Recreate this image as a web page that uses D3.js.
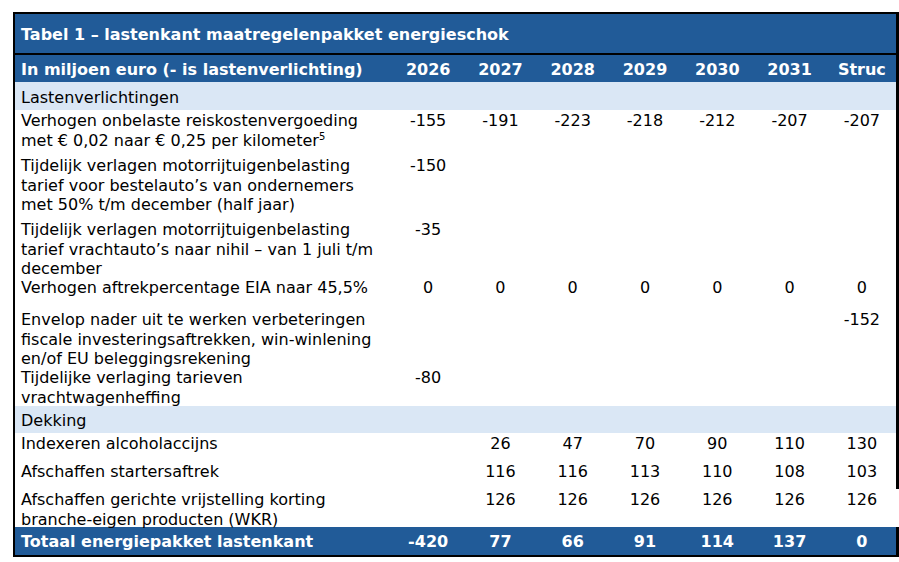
<!DOCTYPE html>
<html>
<head>
<meta charset="utf-8">
<script src="https://cdn.jsdelivr.net/npm/d3@7"></script>
<style>
  html, body { margin: 0; padding: 0; background: #fff; }
  svg { display: block; }
  text { font-family: "DejaVu Sans", Verdana, sans-serif; font-size: 16px; }
</style>
</head>
<body>
<div id="chart"></div>
<script>
// data
var title = "Tabel 1 \u2013 lastenkant maatregelenpakket energieschok";
var headLabel = "In miljoen euro (- is lastenverlichting)";
var columns = ["2026", "2027", "2028", "2029", "2030", "2031", "Struc"];

var lastenTitle = "Lastenverlichtingen";
var lastenLabels = [
    ["Verhogen onbelaste reiskostenvergoeding", "met \u20ac 0,02 naar \u20ac 0,25 per kilometer"],
    ["Tijdelijk verlagen motorrijtuigenbelasting", "tarief voor bestelauto\u2019s van ondernemers", "met 50% t/m december (half jaar)"],
    ["Tijdelijk verlagen motorrijtuigenbelasting", "tarief vrachtauto\u2019s naar nihil \u2013 van 1 juli t/m", "december"],
    ["Verhogen aftrekpercentage EIA naar 45,5%"],
    ["Envelop nader uit te werken verbeteringen", "fiscale investeringsaftrekken, win-winlening", "en/of EU beleggingsrekening"],
    ["Tijdelijke verlaging tarieven", "vrachtwagenheffing"]
];
var lastenValues = [
    [-155, -191, -223, -218, -212, -207, -207],
    [-150, null, null, null, null, null, null],
    [-35, null, null, null, null, null, null],
    [0, 0, 0, 0, 0, 0, 0],
    [null, null, null, null, null, null, -152],
    [-80, null, null, null, null, null, null]
];

var dekkingTitle = "Dekking";
var dekkingLabels = [
    ["Indexeren alcoholaccijns"],
    ["Afschaffen startersaftrek"],
    ["Afschaffen gerichte vrijstelling korting", "branche-eigen producten (WKR)"]
];
var dekkingValues = [
    [null, 26, 47, 70, 90, 110, 130],
    [null, 116, 116, 113, 110, 108, 103],
    [null, 126, 126, 126, 126, 126, 126]
];

var totalLabel = "Totaal energiepakket lastenkant";
var totalValues = [-420, 77, 66, 91, 114, 137, 0];

// layout
var W = 899, H = 562;
var left = 15, right = 896, labelX = 21, colStart = 392, colEnd = 898;
var top0 = 14, titleH = 39, sepH = 2, headH = 27, bandH = 28;
var lastenHeights = [45, 64, 58, 32, 58, 39];
var dekkingBandH = 27;
var dekkingHeights = [28, 28, 38];
var totalH = 28;
var lineH = 19.5;
var darkBlue = "#215b98", lightBlue = "#dae7f5";

var svg = d3.select("#chart").append("svg")
    .attr("width", W)
    .attr("height", H);

var x = d3.scaleBand()
    .domain(columns)
    .range([colStart, colEnd]);
var cx = function(c){ return x(c) + x.bandwidth()/2; };

// build row list
var rows = [];
var y = top0;
rows.push({type: "title", y: y, h: titleH}); y += titleH;
rows.push({type: "sep", y: y, h: sepH}); y += sepH;
rows.push({type: "head", y: y, h: headH}); y += headH;
rows.push({type: "band", y: y, h: bandH, label: lastenTitle}); y += bandH;
lastenLabels.forEach(function(l, i){
    rows.push({type: "body", y: y, h: lastenHeights[i], lines: l, values: lastenValues[i], idx: i});
    y += lastenHeights[i];
});
rows.push({type: "band", y: y, h: dekkingBandH, label: dekkingTitle}); y += dekkingBandH;
var gapTop = 0, gapBottom = 0;
dekkingLabels.forEach(function(l, i){
    if(i == dekkingLabels.length-1) gapTop = y;
    rows.push({type: "body", y: y, h: dekkingHeights[i], lines: l, values: dekkingValues[i]});
    y += dekkingHeights[i];
});
gapBottom = y;
rows.push({type: "total", y: y, h: totalH, values: totalValues}); y += totalH;
var bottom = y;

// backgrounds
svg.selectAll("rect.bg")
    .data(rows.filter(function(r){ return r.type != "body"; }))
    .enter().append("rect")
    .attr("class", "bg")
    .attr("x", left)
    .attr("y", function(r){ return r.y; })
    .attr("width", right - left)
    .attr("height", function(r){ return r.h; })
    .attr("fill", function(r){
        if(r.type == "sep") return "#000";
        if(r.type == "band") return lightBlue;
        return darkBlue;
    });

// title
var titleRow = rows[0];
svg.append("text")
    .attr("x", labelX)
    .attr("y", titleRow.y + titleRow.h/2 + 6)
    .attr("fill", "#fff")
    .style("font-weight", "bold")
    .text(title);

// header
var headRow = rows[2];
svg.append("text")
    .attr("x", labelX)
    .attr("y", headRow.y + headRow.h/2 + 6)
    .attr("fill", "#fff")
    .style("font-weight", "bold")
    .text(headLabel);
svg.selectAll("text.col")
    .data(columns)
    .enter().append("text")
    .attr("class", "col")
    .attr("x", cx)
    .attr("y", headRow.y + headRow.h/2 + 6)
    .attr("text-anchor", "middle")
    .attr("fill", "#fff")
    .style("font-weight", "bold")
    .text(function(d){ return d; });

// section bands
svg.selectAll("text.band")
    .data(rows.filter(function(r){ return r.type == "band"; }))
    .enter().append("text")
    .attr("class", "band")
    .attr("x", labelX)
    .attr("y", function(r){ return r.y + r.h/2 + 6.5; })
    .attr("fill", "#000")
    .text(function(r){ return r.label; });

// body rows
var body = svg.selectAll("g.row")
    .data(rows.filter(function(r){ return r.type == "body"; }))
    .enter().append("g")
    .attr("class", "row")
    .attr("transform", function(r){ return "translate(0," + (r.y + 16) + ")"; });

body.each(function(r){
    var g = d3.select(this);
    r.lines.forEach(function(line, k){
        var t = g.append("text")
            .attr("x", labelX)
            .attr("y", k*lineH)
            .attr("fill", "#000")
            .text(line);
        if(r.idx === 0 && k == 1){
            t.append("tspan")
                .attr("dy", -6)
                .style("font-size", "10px")
                .text("5");
        }
    });
    g.selectAll("text.val")
        .data(r.values.map(function(v, i){ return {v: v, c: columns[i]}; }).filter(function(d){ return d.v !== null; }))
        .enter().append("text")
        .attr("class", "val")
        .attr("x", function(d){ return cx(d.c); })
        .attr("y", 0)
        .attr("text-anchor", "middle")
        .attr("fill", "#000")
        .text(function(d){ return d.v; });
});

// total row
var totalRow = rows[rows.length-1];
svg.append("text")
    .attr("x", labelX)
    .attr("y", totalRow.y + totalRow.h/2 + 6)
    .attr("fill", "#fff")
    .style("font-weight", "bold")
    .text(totalLabel);
svg.selectAll("text.tot")
    .data(totalValues.map(function(v, i){ return {v: v, c: columns[i]}; }))
    .enter().append("text")
    .attr("class", "tot")
    .attr("x", function(d){ return cx(d.c); })
    .attr("y", totalRow.y + totalRow.h/2 + 6)
    .attr("text-anchor", "middle")
    .attr("fill", "#fff")
    .style("font-weight", "bold")
    .text(function(d){ return d.v; });

// outer border (right side breaks at last dekking row)
var bw = 2;
svg.append("rect").attr("x", left - bw).attr("y", top0 - bw).attr("width", right - left + 2*bw).attr("height", bw).attr("fill", "#000");
svg.append("rect").attr("x", left - bw).attr("y", bottom).attr("width", right - left + 2*bw + 1).attr("height", bw).attr("fill", "#000");
svg.append("rect").attr("x", left - bw).attr("y", top0 - bw).attr("width", bw).attr("height", bottom - top0 + 2*bw).attr("fill", "#000");
svg.append("rect").attr("x", right).attr("y", top0 - bw).attr("width", bw + 1).attr("height", gapTop - top0 + bw).attr("fill", "#000");
svg.append("rect").attr("x", right).attr("y", gapBottom).attr("width", bw + 1).attr("height", bottom - gapBottom + bw).attr("fill", "#000");
</script>
</body>
</html>
